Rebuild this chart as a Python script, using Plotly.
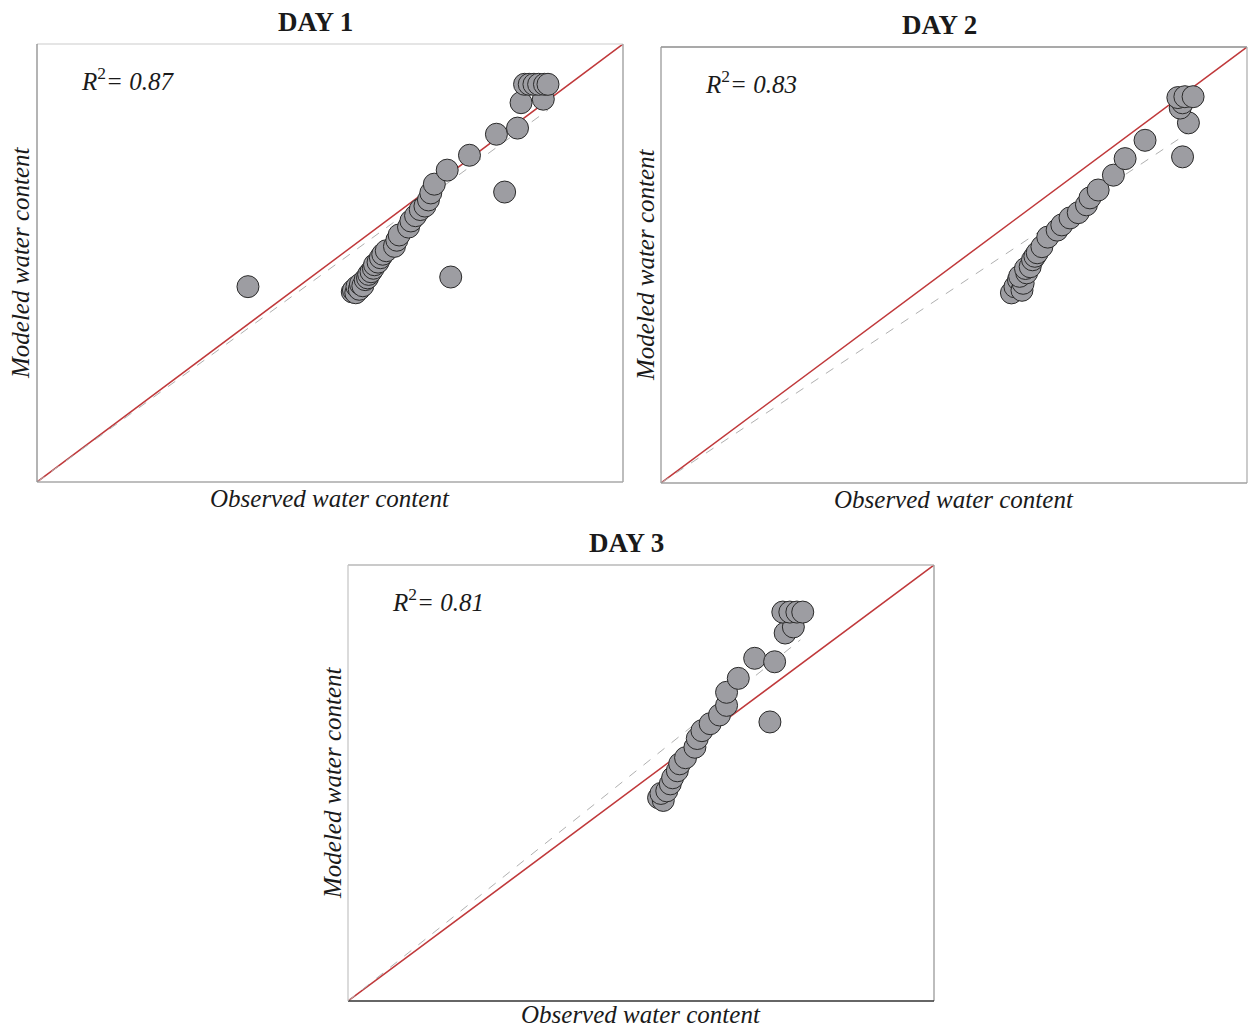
import plotly.graph_objects as go

# Observed vs modeled volumetric water content for three days
day1_obs = [0.180, 0.269, 0.270, 0.272, 0.273, 0.275, 0.276, 0.278, 0.280, 0.282,
            0.283, 0.285, 0.287, 0.288, 0.291, 0.293, 0.295, 0.298, 0.305, 0.307,
            0.309, 0.317, 0.319, 0.323, 0.327, 0.331, 0.334, 0.336, 0.339, 0.350,
            0.369, 0.353, 0.392, 0.399, 0.410, 0.413, 0.432, 0.416, 0.420, 0.424,
            0.428, 0.433, 0.436]
day1_mod = [0.223, 0.217, 0.219, 0.216, 0.223, 0.220, 0.226, 0.224, 0.231, 0.233,
            0.237, 0.240, 0.244, 0.248, 0.251, 0.256, 0.260, 0.264, 0.269, 0.276,
            0.282, 0.291, 0.298, 0.304, 0.311, 0.315, 0.322, 0.330, 0.340, 0.356,
            0.373, 0.234, 0.397, 0.331, 0.404, 0.433, 0.437, 0.454, 0.454, 0.454,
            0.454, 0.454, 0.454]

day2_obs = [0.299, 0.302, 0.305, 0.308, 0.309, 0.306, 0.312, 0.311, 0.315, 0.317,
            0.319, 0.321, 0.325, 0.330, 0.338, 0.342, 0.349, 0.356, 0.363, 0.366,
            0.373, 0.386, 0.396, 0.413, 0.445, 0.450, 0.443, 0.445, 0.441, 0.447,
            0.454]
day2_mod = [0.218, 0.225, 0.233, 0.221, 0.229, 0.237, 0.241, 0.246, 0.248, 0.256,
            0.260, 0.264, 0.271, 0.282, 0.290, 0.296, 0.304, 0.310, 0.319, 0.327,
            0.336, 0.353, 0.372, 0.393, 0.374, 0.413, 0.430, 0.436, 0.442, 0.443,
            0.443]

day3_obs = [0.265, 0.269, 0.267, 0.272, 0.275, 0.277, 0.281, 0.283, 0.288, 0.296,
            0.298, 0.302, 0.309, 0.317, 0.323, 0.323, 0.333, 0.347, 0.364, 0.360,
            0.373, 0.380, 0.371, 0.377, 0.383, 0.388]
day3_mod = [0.233, 0.230, 0.238, 0.241, 0.249, 0.256, 0.264, 0.272, 0.279, 0.291,
            0.301, 0.310, 0.318, 0.328, 0.339, 0.354, 0.370, 0.393, 0.389, 0.320,
            0.422, 0.429, 0.446, 0.446, 0.446, 0.446]

days = ["DAY 1", "DAY 2", "DAY 3"]
r2_values = [0.87, 0.83, 0.81]
# fitted regression (through origin): slope and end of observed range
fit_slopes = [0.974, 0.893, 1.073]
fit_x_end = [0.436, 0.450, 0.386]
axis_max = 0.5

W, H = 1252, 1029
# panel frames in pixels: left, right, top, bottom
frames = [(37, 623, 44, 482), (661, 1247, 47, 483), (348, 934, 565, 1001)]
# border colours: top, right, bottom, left
border_cols = [("#dcdcdc", "#9a9a9a", "#a8a8a8", "#8c8c8c"),
               ("#8c8c8c", "#b0b0b0", "#a0a0a0", "#9a9a9a"),
               ("#b8b8b8", "#9a9a9a", "#333333", "#c8c8c8")]

serif = "Liberation Serif, Times New Roman, serif"
fig = go.Figure()
data = [(day1_obs, day1_mod), (day2_obs, day2_mod), (day3_obs, day3_mod)]


def paper_label(px, py, text, size, **kw):
    opts = dict(xanchor="center", yanchor="middle")
    opts.update(kw)
    fig.add_annotation(x=px / W, y=1 - py / H, xref="paper", yref="paper",
                       text=text, showarrow=False,
                       font=dict(family=serif, size=size, color="#1a1a1a"), **opts)


for i, (obs, mod) in enumerate(data):
    n = i + 1
    xa = "x" if n == 1 else f"x{n}"
    ya = "y" if n == 1 else f"y{n}"
    l, r, t, b = frames[i]
    fig.update_layout(**{
        ("xaxis" if n == 1 else f"xaxis{n}"): dict(
            domain=[l / W, r / W], range=[0, axis_max], showgrid=False,
            zeroline=False, showticklabels=False, ticks="", anchor=ya),
        ("yaxis" if n == 1 else f"yaxis{n}"): dict(
            domain=[1 - b / H, 1 - t / H], range=[0, axis_max], showgrid=False,
            zeroline=False, showticklabels=False, ticks="", anchor=xa),
    })
    # 1:1 line
    fig.add_trace(go.Scatter(x=[0, axis_max], y=[0, axis_max], mode="lines",
                             line=dict(color="#c0393b", width=1.5),
                             xaxis=xa, yaxis=ya, showlegend=False, hoverinfo="skip"))
    # regression line
    fig.add_trace(go.Scatter(x=[0, fit_x_end[i]], y=[0, fit_slopes[i] * fit_x_end[i]],
                             mode="lines", line=dict(color="#b0b0b0", width=1, dash="dash"),
                             xaxis=xa, yaxis=ya, showlegend=False, hoverinfo="skip"))
    fig.add_trace(go.Scatter(x=obs, y=mod, mode="markers",
                             marker=dict(size=22, color="#9d9da2",
                                         line=dict(color="#2a2a2a", width=1)),
                             xaxis=xa, yaxis=ya, showlegend=False))
    # frame
    xd = f"{xa} domain"
    yd = f"{ya} domain"
    tc, rc, bc, lc = border_cols[i]
    for (x0, y0, x1, y1, c) in [(0, 1, 1, 1, tc), (1, 0, 1, 1, rc),
                                (0, 0, 1, 0, bc), (0, 0, 0, 1, lc)]:
        fig.add_shape(type="line", xref=xd, yref=yd, x0=x0, y0=y0, x1=x1, y1=y1,
                      line=dict(color=c, width=1.3))
    cx = (l + r) / 2
    paper_label(cx - 15, t - 22, f"<b>{days[i]}</b>", 27)
    paper_label(cx, min(b + 17, H - 15), "<i>Observed water content</i>", 25)
    paper_label(l - 16, (t + b) / 2, "<i>Modeled water content</i>", 25, textangle=-90)
    paper_label(l + 42, t + 35, f"<i>R</i><sup>2</sup><i>= {r2_values[i]:.2f}</i>", 25,
                xanchor="left")

fig.update_layout(width=W, height=H, margin=dict(l=0, r=0, t=0, b=0),
                  plot_bgcolor="white", paper_bgcolor="white")
fig.write_html("out.html")
